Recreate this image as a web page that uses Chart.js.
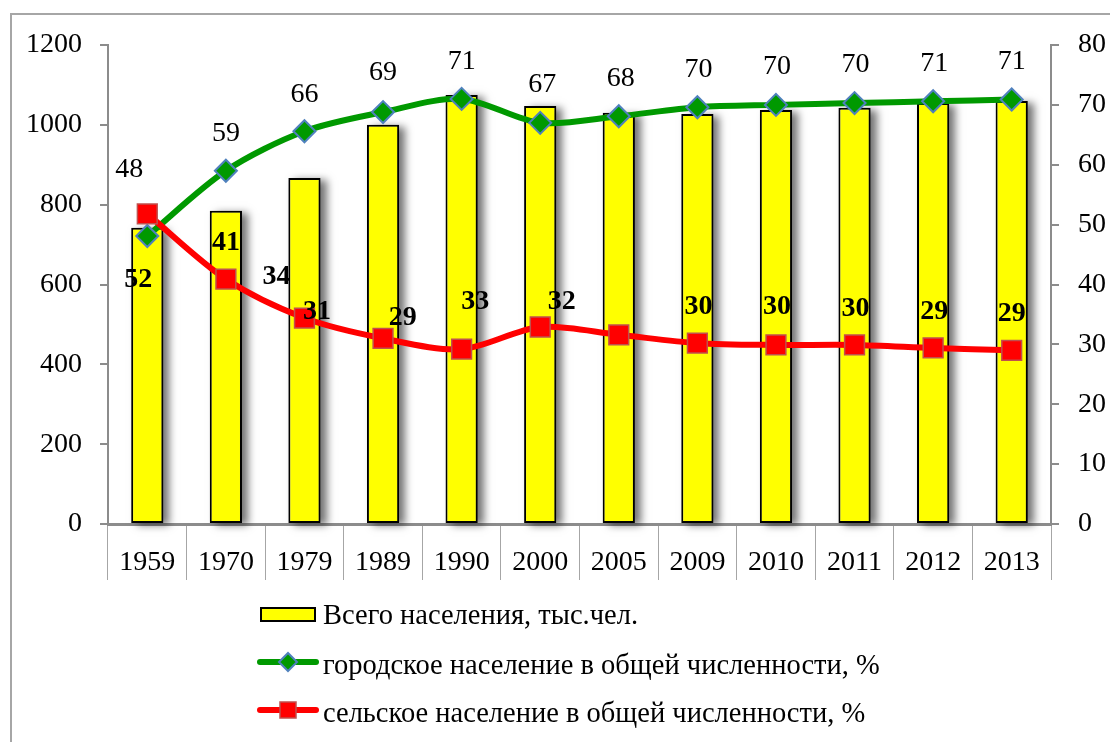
<!DOCTYPE html>
<html>
<head>
<meta charset="utf-8">
<script src="https://cdn.jsdelivr.net/npm/chart.js@4/dist/chart.umd.min.js"></script>
<style>
  html, body { margin: 0; padding: 0; background: #ffffff; }
  #wrap { width: 1110px; height: 742px; position: relative; }
</style>
</head>
<body>
<div id="wrap"><canvas id="c" width="1110" height="742"></canvas></div>
<script>
const categories = ['1959','1970','1979','1989','1990','2000','2005','2009','2010','2011','2012','2013'];
const totalPopulation = [742, 785, 867, 1000, 1075, 1047, 1030, 1027, 1037, 1043, 1055, 1060];
const urbanShare = [48.1, 59.0, 65.6, 68.8, 71.0, 67.0, 68.1, 69.6, 70.0, 70.3, 70.6, 70.9];
const ruralShare = [51.8, 40.9, 34.4, 31.0, 29.2, 32.9, 31.6, 30.2, 29.9, 29.9, 29.4, 29.0];
const leftTicks = [0, 200, 400, 600, 800, 1000, 1200];
const rightTicks = [0, 10, 20, 30, 40, 50, 60, 70, 80];
const seriesNames = ['Всего населения, тыс.чел.', 'городское население в общей численности, %', 'сельское население в общей численности, %'];

// label placement offsets (pixels, relative to each point) as in the reference
const urbanLabelOffsets = [[-18,-66],[0,-37],[0,-37],[0,-39],[0,-37],[2,-38],[2,-38],[1,-38],[1,-38],[1,-38],[1,-38],[0,-38]];
const ruralLabelOffsets = [[-9,66],[0,-36],[-28,-41],[-66,-27],[-59,-31],[-65,-25],[-57,-33],[1,-36],[1,-38],[1,-36],[1,-36],[0,-37]];

const FONT = "'Liberation Serif', 'Times New Roman', serif";

const framePlugin = {
  id: 'frame',
  beforeDraw(chart) {
    const ctx = chart.ctx;
    ctx.save();
    ctx.fillStyle = '#ffffff';
    ctx.fillRect(0, 0, chart.width, chart.height);
    ctx.strokeStyle = '#a6a6a6';
    ctx.lineWidth = 2;
    ctx.beginPath();
    ctx.moveTo(11, chart.height + 2);
    ctx.lineTo(11, 14);
    ctx.lineTo(chart.width + 2, 14);
    ctx.stroke();
    ctx.restore();
  }
};

// soft drop shadow behind each bar, taken from the bar elements laid out by the library
const shadowPlugin = {
  id: 'barShadow',
  beforeDatasetDraw(chart, args) {
    if (chart.data.datasets[args.index].type !== 'bar') return;
    const ctx = chart.ctx;
    const far = 10000;
    ctx.save();
    ctx.shadowColor = 'rgba(0,0,0,0.55)';
    ctx.shadowBlur = 8;
    ctx.shadowOffsetX = far + 6;
    ctx.shadowOffsetY = 2;
    ctx.fillStyle = '#000000';
    args.meta.data.forEach(bar => {
      const p = bar.getProps(['x', 'y', 'base', 'width'], true);
      ctx.fillRect(p.x - p.width / 2 - far, p.y, p.width, p.base - p.y);
    });
    ctx.restore();
  }
};

const labelPlugin = {
  id: 'pointLabels',
  afterDatasetsDraw(chart) {
    const ctx = chart.ctx;
    ctx.save();
    ctx.fillStyle = '#000000';
    ctx.textAlign = 'center';
    ctx.textBaseline = 'middle';
    const draw = (dsIndex, values, offsets, bold) => {
      const meta = chart.getDatasetMeta(dsIndex);
      ctx.font = (bold ? 'bold ' : '') + '28px ' + FONT;
      meta.data.forEach((pt, i) => {
        const o = offsets[i];
        ctx.fillText(String(Math.round(values[i])), pt.x + o[0], pt.y + o[1]);
      });
    };
    draw(1, urbanShare, urbanLabelOffsets, false);
    draw(2, ruralShare, ruralLabelOffsets, true);
    ctx.restore();
  }
};

const legendPlugin = {
  id: 'customLegend',
  afterDraw(chart) {
    const ctx = chart.ctx;
    const ds = chart.data.datasets;
    ctx.save();
    const x0 = 260, x1 = 316, xm = 288, tx = 323;
    // bar item
    ctx.fillStyle = ds[0].backgroundColor;
    ctx.strokeStyle = ds[0].borderColor;
    ctx.lineWidth = 2;
    ctx.fillRect(261, 608, 54, 13);
    ctx.strokeRect(261, 608, 54, 13);
    // green item
    ctx.lineCap = 'round';
    ctx.strokeStyle = ds[1].borderColor;
    ctx.lineWidth = 6;
    ctx.beginPath(); ctx.moveTo(x0, 662); ctx.lineTo(x1, 662); ctx.stroke();
    ctx.beginPath();
    ctx.moveTo(xm - 9, 662); ctx.lineTo(xm, 653); ctx.lineTo(xm + 9, 662); ctx.lineTo(xm, 671); ctx.closePath();
    ctx.fillStyle = ds[1].pointBackgroundColor;
    ctx.fill();
    ctx.strokeStyle = ds[1].pointBorderColor;
    ctx.lineWidth = 2;
    ctx.stroke();
    // red item
    ctx.strokeStyle = ds[2].borderColor;
    ctx.lineWidth = 6;
    ctx.beginPath(); ctx.moveTo(x0, 710); ctx.lineTo(x1, 710); ctx.stroke();
    ctx.fillStyle = ds[2].pointBackgroundColor;
    ctx.fillRect(xm - 8, 702, 16, 16);
    ctx.strokeStyle = ds[2].pointBorderColor;
    ctx.lineWidth = 1.5;
    ctx.strokeRect(xm - 8, 702, 16, 16);
    // texts
    ctx.fillStyle = '#000000';
    ctx.font = '28.5px ' + FONT;
    ctx.textAlign = 'left';
    ctx.textBaseline = 'middle';
    ctx.fillText(seriesNames[0], tx, 617);
    ctx.fillText(seriesNames[1], tx, 667);
    ctx.fillText(seriesNames[2], tx, 715);
    ctx.restore();
  }
};

new Chart(document.getElementById('c'), {
  data: {
    labels: categories,
    datasets: [
      {
        type: 'bar',
        label: seriesNames[0],
        data: totalPopulation,
        yAxisID: 'y',
        backgroundColor: '#ffff00',
        borderColor: '#000000',
        borderWidth: 2,
        borderSkipped: false,
        categoryPercentage: 1.0,
        barPercentage: 0.41,
        order: 3
      },
      {
        type: 'line',
        label: seriesNames[1],
        data: urbanShare,
        yAxisID: 'y1',
        borderColor: '#009900',
        borderWidth: 6,
        tension: 0.3,
        pointStyle: 'rectRot',
        pointRadius: 11,
        pointBackgroundColor: '#009900',
        pointBorderColor: '#4f81bd',
        pointBorderWidth: 2,
        fill: false,
        order: 2
      },
      {
        type: 'line',
        label: seriesNames[2],
        data: ruralShare,
        yAxisID: 'y1',
        borderColor: '#ff0000',
        borderWidth: 6,
        tension: 0.3,
        pointStyle: 'rect',
        pointRadius: 14,
        pointBackgroundColor: '#ff0000',
        pointBorderColor: '#c0504d',
        pointBorderWidth: 1.5,
        fill: false,
        order: 1
      }
    ]
  },
  options: {
    responsive: false,
    animation: false,
    devicePixelRatio: 1,
    layout: { padding: { top: 45, left: 0, right: 0, bottom: 0 } },
    plugins: {
      legend: { display: false },
      tooltip: { enabled: false }
    },
    scales: {
      x: {
        type: 'category',
        offset: true,
        grid: {
          offset: true,
          drawOnChartArea: false,
          drawTicks: true,
          tickLength: 56,
          color: '#a6a6a6',
          lineWidth: 1
        },
        border: { display: true, color: '#8c8c8c', width: 3 },
        ticks: {
          color: '#000000',
          font: { family: FONT, size: 28 },
          padding: -34,
          maxRotation: 0,
          autoSkip: false
        },
        afterFit(scale) { scale.height = 218; }
      },
      y: {
        type: 'linear',
        position: 'left',
        min: 0,
        max: 1200,
        afterBuildTicks(scale) { scale.ticks = leftTicks.map(v => ({ value: v })); },
        grid: {
          drawOnChartArea: false,
          drawTicks: true,
          tickLength: 8,
          color: '#8c8c8c',
          lineWidth: 2
        },
        border: { display: true, color: '#8c8c8c', width: 2 },
        ticks: {
          color: '#000000',
          font: { family: FONT, size: 28 },
          padding: 18,
          callback: (v) => String(v)
        },
        afterFit(scale) { scale.width = 108; }
      },
      y1: {
        type: 'linear',
        position: 'right',
        min: 0,
        max: 80,
        afterBuildTicks(scale) { scale.ticks = rightTicks.map(v => ({ value: v })); },
        grid: {
          drawOnChartArea: false,
          drawTicks: true,
          tickLength: 8,
          color: '#8c8c8c',
          lineWidth: 2
        },
        border: { display: true, color: '#8c8c8c', width: 2 },
        ticks: {
          color: '#000000',
          font: { family: FONT, size: 28 },
          padding: 19,
          callback: (v) => String(v)
        },
        afterFit(scale) { scale.width = 59; }
      }
    }
  },
  plugins: [framePlugin, shadowPlugin, labelPlugin, legendPlugin]
});
</script>
</body>
</html>
